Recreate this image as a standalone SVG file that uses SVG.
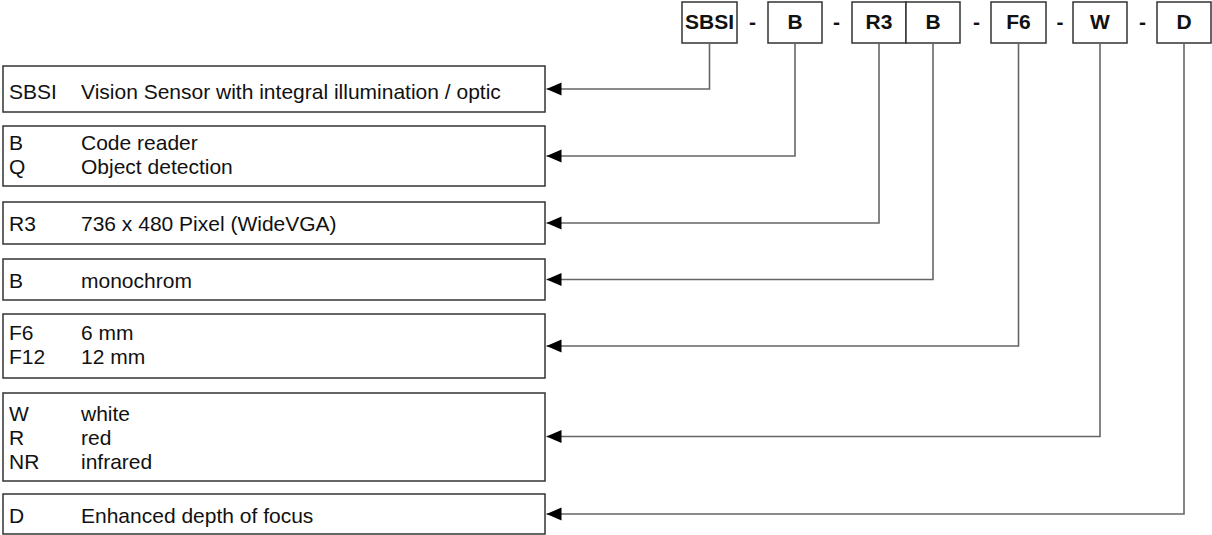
<svg xmlns="http://www.w3.org/2000/svg" width="1212" height="535" viewBox="0 0 1212 535">
  <style>
    .box { fill: #fff; stroke: #333; stroke-width: 1.5; }
    .t { font-family: "Liberation Sans", Arial, sans-serif; font-size: 21px; fill: #111; }
    .h { font-family: "Liberation Sans", Arial, sans-serif; font-size: 21px; font-weight: bold; fill: #111; text-anchor: middle; }
    .con { fill: none; stroke: #666; stroke-width: 1.6; }
  </style>
  <defs>
    <marker id="arr" markerUnits="userSpaceOnUse" markerWidth="16" markerHeight="14" refX="15" refY="6.5" orient="auto">
      <path d="M0,0 L15,6.5 L0,13 Z" fill="#000"/>
    </marker>
  </defs>
  <rect width="1212" height="535" fill="#fff"/>

  <g id="code">
    <g id="c-sbsi"><rect class="box" x="682" y="2" width="55" height="41"/><text class="h" x="709.5" y="29">SBSI</text></g>
    <text class="h" x="752.5" y="29">-</text>
    <g id="c-b"><rect class="box" x="768" y="2" width="54" height="41"/><text class="h" x="795" y="29">B</text></g>
    <text class="h" x="836.5" y="29">-</text>
    <g id="c-r3"><rect class="box" x="852" y="2" width="54" height="41"/><text class="h" x="879" y="29">R3</text></g>
    <g id="c-b2"><rect class="box" x="906" y="2" width="54" height="41"/><text class="h" x="933" y="29">B</text></g>
    <text class="h" x="976.5" y="29">-</text>
    <g id="c-f6"><rect class="box" x="991" y="2" width="55" height="41"/><text class="h" x="1018.5" y="29">F6</text></g>
    <text class="h" x="1060" y="29">-</text>
    <g id="c-w"><rect class="box" x="1073" y="2" width="54" height="41"/><text class="h" x="1100" y="29">W</text></g>
    <text class="h" x="1142.5" y="29">-</text>
    <g id="c-d"><rect class="box" x="1157" y="2" width="54" height="41"/><text class="h" x="1184" y="29">D</text></g>
  </g>

  <g id="n-sbsi"><rect class="box" x="3" y="66" width="542" height="46"/>
    <text class="t" x="9" y="99">SBSI</text><text class="t" x="81" y="99">Vision Sensor with integral illumination / optic</text></g>
  <g id="n-b"><rect class="box" x="3" y="126" width="542" height="60"/>
    <text class="t" x="9" y="150">B</text><text class="t" x="81" y="150">Code reader</text>
    <text class="t" x="9" y="174">Q</text><text class="t" x="81" y="174">Object detection</text></g>
  <g id="n-r3"><rect class="box" x="3" y="202" width="542" height="42"/>
    <text class="t" x="9" y="230.5">R3</text><text class="t" x="81" y="230.5">736 x 480 Pixel (WideVGA)</text></g>
  <g id="n-b2"><rect class="box" x="3" y="259" width="542" height="41"/>
    <text class="t" x="9" y="288">B</text><text class="t" x="81" y="288">monochrom</text></g>
  <g id="n-f"><rect class="box" x="3" y="314" width="542" height="64"/>
    <text class="t" x="9" y="340">F6</text><text class="t" x="81" y="340">6 mm</text>
    <text class="t" x="9" y="364">F12</text><text class="t" x="81" y="364">12 mm</text></g>
  <g id="n-w"><rect class="box" x="3" y="393" width="542" height="88"/>
    <text class="t" x="9" y="420.5">W</text><text class="t" x="81" y="420.5">white</text>
    <text class="t" x="9" y="444.5">R</text><text class="t" x="81" y="444.5">red</text>
    <text class="t" x="9" y="469">NR</text><text class="t" x="81" y="469">infrared</text></g>
  <g id="n-d"><rect class="box" x="3" y="494" width="542" height="40"/>
    <text class="t" x="9" y="522.5">D</text><text class="t" x="81" y="522.5">Enhanced depth of focus</text></g>

  <g id="connectors">
    <path class="con" d="M709.5,43 V89 H546.5" marker-end="url(#arr)"/>
    <path class="con" d="M795,43 V156 H546.5" marker-end="url(#arr)"/>
    <path class="con" d="M879,43 V223 H546.5" marker-end="url(#arr)"/>
    <path class="con" d="M933,43 V279.5 H546.5" marker-end="url(#arr)"/>
    <path class="con" d="M1018.5,43 V346 H546.5" marker-end="url(#arr)"/>
    <path class="con" d="M1100,43 V436.5 H546.5" marker-end="url(#arr)"/>
    <path class="con" d="M1184,43 V514 H546.5" marker-end="url(#arr)"/>
  </g>
</svg>
